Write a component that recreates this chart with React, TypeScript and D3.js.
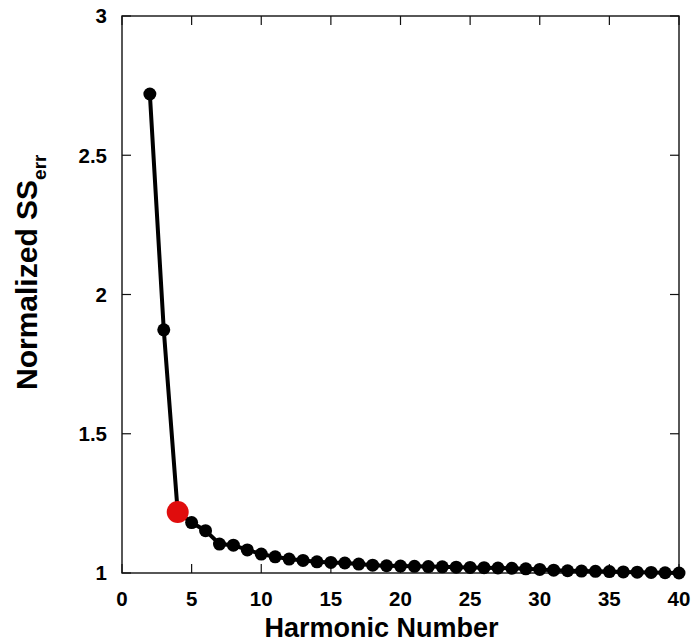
import React from "react";
import * as d3 from "d3";

const harmonics = [2,3,4,5,6,7,8,9,10,11,12,13,14,15,16,17,18,19,20,21,22,23,24,25,26,27,28,29,30,31,32,33,34,35,36,37,38,39,40];
const ssErr = [2.72,1.873,1.219,1.181,1.152,1.104,1.100,1.083,1.068,1.058,1.050,1.045,1.040,1.038,1.036,1.032,1.028,1.026,1.025,1.024,1.023,1.022,1.021,1.020,1.019,1.018,1.017,1.015,1.013,1.010,1.008,1.007,1.006,1.005,1.004,1.003,1.002,1.001,1.000];
const highlightHarmonic = 4;
const xTicks = [0,5,10,15,20,25,30,35,40];
const yTicks = [1,1.5,2,2.5,3];

const W = 693, H = 644;
const L = 122, R = 679, T = 16, B = 573;

export default function App() {
  const x = d3.scaleLinear().domain([0, 40]).range([L, R]);
  const y = d3.scaleLinear().domain([1, 3]).range([B, T]);
  const pts = harmonics.map((h, i) => ({ h, v: ssErr[i] }));
  const line = d3.line<{ h: number; v: number }>().x(d => x(d.h)).y(d => y(d.v));
  const font = "'Liberation Sans', Arial, sans-serif";
  const hi = pts.find(p => p.h === highlightHarmonic)!;
  return (
    <svg width={W} height={H} style={{ position: "absolute", left: 0, top: 0, background: "#fff" }} fontFamily={font}>
      <rect x={L} y={T} width={R - L} height={B - T} fill="none" stroke="#111" strokeWidth={1.4} />
      {xTicks.map(t => (
        <g key={"x" + t}>
          <line x1={x(t)} x2={x(t)} y1={B} y2={B - 9} stroke="#111" strokeWidth={1.2} />
          <line x1={x(t)} x2={x(t)} y1={T} y2={T + 9} stroke="#111" strokeWidth={1.2} />
          <text x={x(t)} y={606} textAnchor="middle" fontSize={20.5} fontWeight="bold">{t}</text>
        </g>
      ))}
      {yTicks.map(t => (
        <g key={"y" + t}>
          <line x1={L} x2={L + 9} y1={y(t)} y2={y(t)} stroke="#111" strokeWidth={1.2} />
          <line x1={R} x2={R - 9} y1={y(t)} y2={y(t)} stroke="#111" strokeWidth={1.2} />
          <text x={107} y={y(t)} dy="0.36em" textAnchor="end" fontSize={20.5} fontWeight="bold">{t}</text>
        </g>
      ))}
      <path d={line(pts) || ""} fill="none" stroke="#000" strokeWidth={4} />
      {pts.filter(p => p.h !== highlightHarmonic).map(p => (
        <circle key={p.h} cx={x(p.h)} cy={y(p.v)} r={6.5} fill="#000" />
      ))}
      <circle cx={x(hi.h)} cy={y(hi.v)} r={11} fill="#e00d0d" />
      <text x={381.5} y={637} textAnchor="middle" fontSize={27} fontWeight="bold">Harmonic Number</text>
      <text transform="translate(37,390) rotate(-90)" textAnchor="start" fontSize={30} fontWeight="bold">
        Normalized SS<tspan fontSize={19} dy={9}>err</tspan>
      </text>
    </svg>
  );
}
